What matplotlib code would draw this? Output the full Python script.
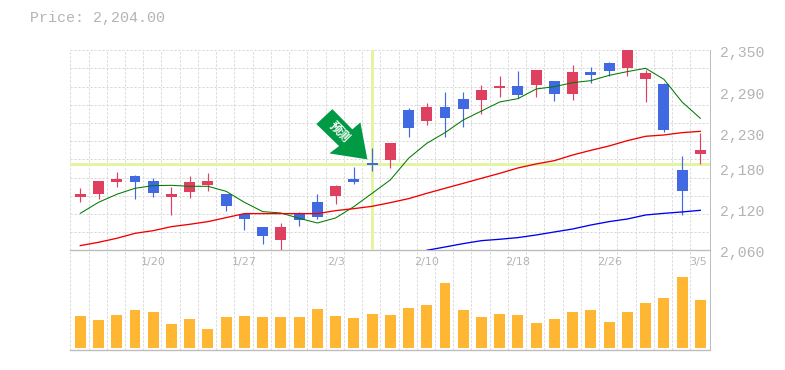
import numpy as np
import matplotlib
matplotlib.use('Agg')
import matplotlib.pyplot as plt
from matplotlib.patches import Polygon
from matplotlib.transforms import ScaledTranslation

# one row per day, oldest first
opens = [2137.3, 2141.7, 2159.1, 2167.8, 2160.5, 2137.3, 2144.6, 2154.7, 2141.7, 2112.7,
         2093.8, 2075.0, 2112.7, 2130.1, 2138.8, 2163.4, 2186.6, 2191.0, 2263.5, 2247.5,
         2267.8, 2279.4, 2278.0, 2295.4, 2298.3, 2299.7, 2305.5, 2286.7, 2318.6, 2331.6,
         2324.4, 2308.4, 2301.2, 2176.5, 2199.7]
closes = [2141.7, 2160.5, 2163.4, 2159.1, 2143.1, 2141.7, 2159.1, 2160.5, 2124.3, 2105.4,
          2080.8, 2093.8, 2104.0, 2108.3, 2153.3, 2159.1, 2183.7, 2215.6, 2237.4, 2267.8,
          2251.9, 2264.9, 2292.5, 2298.3, 2285.2, 2321.5, 2286.7, 2318.6, 2314.2, 2320.0,
          2350.0, 2317.1, 2234.5, 2146.0, 2205.5]
highs = [2150.4, 2160.5, 2173.6, 2169.2, 2164.9, 2151.8, 2168.0, 2172.1, 2141.7, 2114.1,
         2093.8, 2099.6, 2115.6, 2141.7, 2154.7, 2180.8, 2208.4, 2215.6, 2266.4, 2273.1,
         2289.6, 2289.6, 2299.7, 2312.8, 2320.0, 2321.5, 2305.5, 2328.7, 2325.8, 2333.1,
         2350.0, 2321.5, 2302.6, 2196.8, 2230.1]
lows = [2130.1, 2134.4, 2151.8, 2134.4, 2137.3, 2111.2, 2135.9, 2146.0, 2117.0, 2089.5,
        2069.2, 2060.5, 2095.3, 2105.4, 2127.2, 2156.2, 2175.0, 2179.4, 2224.3, 2241.7,
        2224.3, 2238.8, 2257.7, 2282.3, 2280.9, 2282.3, 2276.5, 2277.9, 2302.6, 2312.8,
        2312.8, 2275.1, 2231.6, 2111.2, 2185.2]
is_up = [1, 1, 1, 0, 0, 1, 1, 1, 0, 0, 0, 1, 0, 0, 1, 0, 0, 1, 0, 1,
         0, 0, 1, 1, 0, 1, 0, 1, 0, 0, 1, 1, 0, 0, 1]
ma_short = [2113.6, 2129.6, 2141.2, 2149.9, 2153.8, 2154.2, 2152.8, 2152.8, 2145.5, 2129.6,
            2116.1, 2114.1, 2106.4, 2099.6, 2106.9, 2123.3, 2142.6, 2162.0, 2193.4, 2215.1,
            2230.6, 2249.0, 2262.0, 2275.1, 2279.9, 2293.9, 2297.3, 2303.1, 2306.0, 2313.7,
            2319.1, 2323.9, 2308.0, 2275.1, 2251.4]
ma_mid = [2066.8, 2071.6, 2077.4, 2084.6, 2088.5, 2094.3, 2097.7, 2101.6, 2107.4, 2113.2,
          2113.2, 2113.2, 2113.2, 2113.2, 2117.5, 2120.4, 2123.8, 2129.1, 2134.9, 2142.6,
          2149.9, 2157.1, 2164.4, 2171.6, 2179.4, 2185.2, 2190.0, 2198.2, 2205.0, 2211.3,
          2219.0, 2225.3, 2227.2, 2230.6, 2232.5]
ma_long = [np.nan] * 19 + [2060.0, 2064.8, 2069.7, 2074.0, 2076.0, 2078.4, 2082.2, 2086.6,
                           2090.9, 2096.7, 2101.6, 2105.4, 2111.2, 2113.6, 2115.6, 2118.0]
volumes = [95, 83, 98, 113, 107, 71, 86, 56, 92, 95, 92, 92, 92, 116, 95, 89, 101, 98,
           119, 128, 194, 113, 92, 101, 98, 74, 86, 107, 113, 77, 107, 134, 149, 212, 143]
date_pos = [4, 9, 14, 19, 24, 29, 33.9]
date_labels = ['1/20', '1/27', '2/3', '2/10', '2/18', '2/26', '3/5']
price_ticks = [2350, 2290, 2230, 2180, 2120, 2060]
price_labels = ['2,350', '2,290', '2,230', '2,180', '2,120', '2,060']
title = 'Price: 2,204.00'
mark_day = 16
mark_price = 2185.0
mark_text = '预测'

W, H = 785, 370
RED = '#e04060'
BLUE = '#4169e1'
ORANGE = '#ffb733'
GRID = '#d8d8d8'
AXIS = '#bdbdbd'
TEXT = '#b4b4b4'
HILITE = '#e3f5a3'
ARROW = '#009944'
PX = 0.72  # 1 pixel in points at dpi 100
DASH = (0, (2.2, 1.8))

plt.rcParams['font.family'] = ['Noto Sans CJK SC', 'DejaVu Sans']

fig = plt.figure(figsize=(W / 100, H / 100), dpi=100)


def make_axes(left, right, top, bottom):
    a = fig.add_axes([left / W, 1 - bottom / H, (right - left) / W, (bottom - top) / H])
    a.patch.set_visible(False)
    return a


ax = make_axes(70.3, 709.8, 50.3, 250.3)
vax = make_axes(70.3, 709.8, 250.3, 350.3)

days = np.arange(len(opens))
xlim = (-0.548, 34.52)
grid_x = days - 0.548

for a in (ax, vax):
    a.set_xlim(*xlim)
    a.set_xticks([])
    a.set_yticks([])
    for s in a.spines.values():
        s.set_visible(False)
    a.vlines(grid_x, 0, 1, transform=a.get_xaxis_transform(), color=GRID,
             lw=PX, linestyles=DASH, zorder=0, clip_on=False)
    a.axvline(xlim[1], color=AXIS, lw=PX, zorder=1, clip_on=False)

# price panel
ax.set_ylim(2060, 2350)
for y in np.linspace(2060, 2350, 12)[1:]:
    ax.axhline(y, color=GRID, lw=PX, ls=DASH, zorder=0, clip_on=False)
ax.axhline(2060, color=AXIS, lw=1.0, zorder=1, clip_on=False)

ax.axhline(mark_price, color=HILITE, lw=3 * PX, zorder=1)
ax.axvline(mark_day, ymin=0.005, color=HILITE, lw=3 * PX, zorder=1)

colors = [RED if u else BLUE for u in is_up]
ax.vlines(days, lows, highs, color=colors, lw=0.85, zorder=3)
body_low = np.minimum(opens, closes)
body_h = np.abs(np.array(closes) - np.array(opens))
ax.bar(days, body_h, bottom=body_low, width=0.6, color=colors, linewidth=0, zorder=3)

ax.plot(days, ma_short, color='#007a00', lw=0.75, zorder=4)
ax.plot(days, ma_mid, color='#f00000', lw=0.95, zorder=4)
ax.plot(days, ma_long, color='#0000f0', lw=0.95, zorder=4)

# arrow hanging off the marked candle, offsets in inches
arrow_pts = np.array([(-39.7, 55), (-55.7, 40), (-33, 18), (-42.7, 10.7),
                      (-4.7, 4.7), (-11.7, 41.7), (-19.7, 34.7)]) / 100
offset = fig.dpi_scale_trans + ScaledTranslation(mark_day, mark_price, ax.transData)
ax.add_patch(Polygon(arrow_pts, closed=True, transform=offset, facecolor=ARROW,
                     edgecolor='none', zorder=5))
ax.text(-0.33, 0.325, mark_text, transform=offset, rotation=-45, ha='center', va='center',
        color='white', fontsize=8.5, fontweight='bold', zorder=6)

# volume panel
vax.set_ylim(-7, 293)
vax.bar(days, volumes, width=0.6, color=ORANGE, linewidth=0, zorder=3)
vax.axhline(-7, color=AXIS, lw=1.0, zorder=4, clip_on=False)

for pos, lab in zip(date_pos, date_labels):
    vax.text(pos, 1 - 11.5 / 100, lab, transform=vax.get_xaxis_transform(), ha='center',
             va='center', color=TEXT, fontsize=8, family='DejaVu Sans')

for val, lab in zip(price_ticks, price_labels):
    ax.text(720 / W, 1 - (2350 - val) / 290 * 200 / H - 53.5 / H, lab, transform=fig.transFigure,
            ha='left', va='center', color=TEXT, fontsize=10.7, family='Liberation Mono')
fig.text(29.5 / W, 1 - 18 / H, title, ha='left', va='center', color=TEXT, fontsize=10.8,
         family='Liberation Mono')

fig.savefig('out.png', dpi=100)
